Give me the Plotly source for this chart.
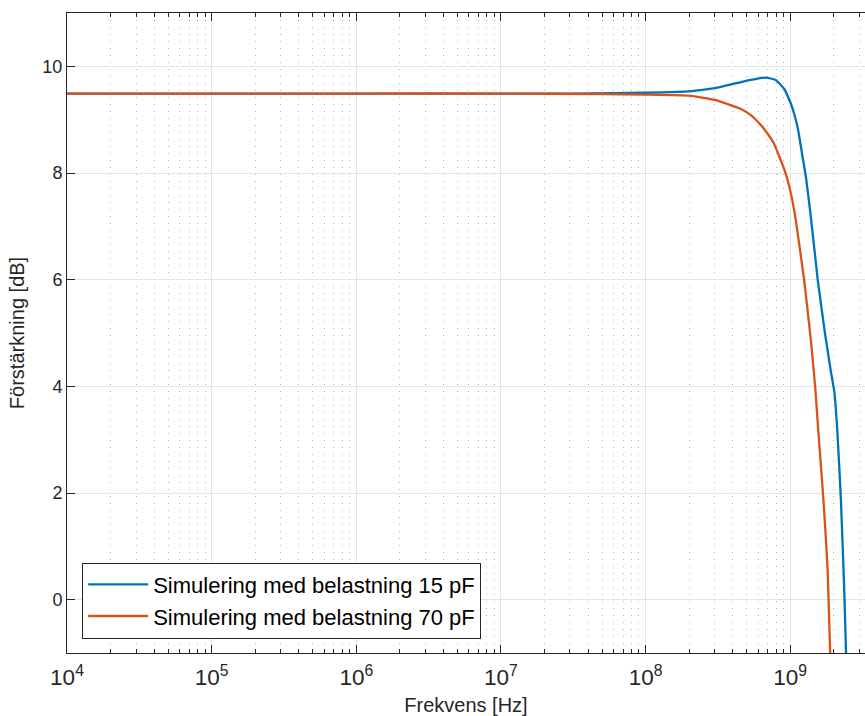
import plotly.graph_objects as go

# Frequency [Hz] and gain [dB]
freq_15 = [1e4, 1e5, 1e6, 1e7, 3e7, 6e7, 1e8, 2e8, 3.02e8, 4.5e8, 5.35e8, 6.79e8, 7.94e8,
           9.10e8, 1.012e9, 1.125e9, 1.219e9, 1.285e9, 1.39e9, 1.549e9, 1.738e9,
           1.905e9, 2.018e9, 2.113e9, 2.239e9, 2.355e9, 2.432e9, 2.466e9]
gain_15 = [9.49, 9.49, 9.49, 9.49, 9.49, 9.495, 9.505, 9.53, 9.59, 9.70, 9.745, 9.79, 9.745,
           9.575, 9.295, 8.856, 8.29, 7.92, 7.17, 6.0, 5.0,
           4.3, 3.9, 3.2, 1.9, 0.3, -1.0, -1.6]

freq_70 = [1e4, 1e5, 1e6, 1e7, 5e7, 1e8, 2e8, 3.02e8, 4.57e8, 5.37e8, 6.17e8, 6.92e8,
           7.74e8, 8.63e8, 9.33e8, 1.012e9, 1.094e9, 1.25e9, 1.39e9, 1.489e9, 1.563e9,
           1.698e9, 1.811e9, 1.888e9, 1.919e9]
gain_70 = [9.49, 9.49, 9.49, 9.49, 9.48, 9.47, 9.45, 9.37, 9.20, 9.08, 8.92, 8.75,
           8.545, 8.23, 7.98, 7.61, 7.11, 5.98, 4.86, 3.98, 3.17,
           1.86, 0.61, -1.0, -1.6]

names = ["Simulering med belastning 15 pF", "Simulering med belastning 70 pF"]
colors = ["#0072BD", "#D95319"]

fig = go.Figure()
for f, g, n, c in [(freq_15, gain_15, names[0], colors[0]), (freq_70, gain_70, names[1], colors[1])]:
    fig.add_trace(go.Scatter(x=f, y=g, mode="lines", name=n,
                             line=dict(color=c, width=2.3, shape="spline", smoothing=0.4)))

font = "Liberation Sans, Arial, Helvetica, sans-serif"
axcol = "#262626"
fig.update_layout(
    width=865, height=716,
    margin=dict(l=67, r=0, t=13, b=63),
    paper_bgcolor="white", plot_bgcolor="white",
    font=dict(family=font, size=18, color=axcol),
    showlegend=True,
    legend=dict(x=0.019, y=0.0225, xanchor="left", yanchor="bottom",
                bgcolor="white", bordercolor=axcol, borderwidth=1,
                font=dict(size=22, color="black"), tracegroupgap=0, itemwidth=60),
    xaxis=dict(type="log", range=[4, 9.517], tickmode="linear", tick0=0, dtick=1,
               exponentformat="power", showexponent="all",
               showline=True, linecolor=axcol, linewidth=1, mirror="ticks",
               ticks="inside", ticklen=8, tickcolor=axcol, ticklabelstandoff=5,
               showgrid=True, gridcolor="#e4e4e4", gridwidth=1,
               minor=dict(dtick="D1", ticks="inside", ticklen=4, tickcolor=axcol,
                          showgrid=True, gridcolor="#b5b5b5", griddash="1px,6px", gridwidth=1),
               title=dict(text="Frekvens [Hz]", font=dict(size=20), standoff=8),
               tickfont=dict(size=18), zeroline=False),
    yaxis=dict(range=[-1, 11], tickmode="linear", tick0=0, dtick=2,
               showline=True, linecolor=axcol, linewidth=1, mirror=False,
               ticks="inside", ticklen=8, tickcolor=axcol,
               showgrid=True, gridcolor="#e4e4e4", gridwidth=1,
               title=dict(text="Förstärkning [dB]", font=dict(size=20), standoff=12),
               tickfont=dict(size=18), zeroline=False),
)

fig.write_html("out.html")
